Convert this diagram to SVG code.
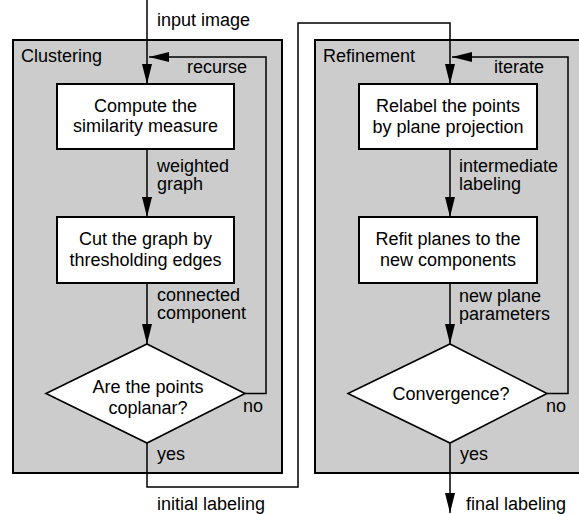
<svg xmlns="http://www.w3.org/2000/svg" width="579" height="514" viewBox="0 0 579 514">
<style>
text{font-family:"Liberation Sans",Arial,Helvetica,sans-serif;font-size:18px;fill:#000}
.c{text-anchor:middle}
.panel{fill:#cccccc;stroke:#000;stroke-width:2}
.box{fill:#fff;stroke:#000;stroke-width:2}
.dia{fill:#fff;stroke:#000;stroke-width:1.6}
.ln{fill:none;stroke:#000;stroke-width:1.5}
</style>
<defs>
<marker id="ah" markerUnits="userSpaceOnUse" markerWidth="20" markerHeight="10" refX="20" refY="5" orient="auto" viewBox="0 0 20 10">
<path d="M0,0 L20,5 L0,10 Z" fill="#000"/>
</marker>
</defs>
<g id="panel-clustering">
<rect class="panel" x="13" y="40" width="269" height="433"/>
<text x="21" y="62">Clustering</text>
</g>
<g id="panel-refinement">
<rect class="panel" x="315" y="40" width="275" height="433"/>
<text x="323" y="62">Refinement</text>
</g>
<g id="connectors">
<path class="ln" d="M147,0 V84" marker-end="url(#ah)"/>
<path class="ln" d="M147,149 V217" marker-end="url(#ah)"/>
<path class="ln" d="M147,283 V344" marker-end="url(#ah)"/>
<path class="ln" d="M245,393.5 H266 V57 H149" marker-end="url(#ah)"/>
<path class="ln" d="M147,443 V487 H298 V23 H450 V84" marker-end="url(#ah)"/>
<path class="ln" d="M450,149 V217" marker-end="url(#ah)"/>
<path class="ln" d="M450,283 V344" marker-end="url(#ah)"/>
<path class="ln" d="M547,393.5 H568 V57 H452" marker-end="url(#ah)"/>
<path class="ln" d="M450,443 V513" marker-end="url(#ah)"/>
<text x="157" y="26">input image</text>
<text x="187" y="73">recurse</text>
<text x="157" y="172">weighted</text>
<text x="157" y="190">graph</text>
<text x="157" y="301">connected</text>
<text x="157" y="319">component</text>
<text x="243" y="412">no</text>
<text x="157" y="460">yes</text>
<text x="157" y="510">initial labeling</text>
<text x="494" y="73">iterate</text>
<text x="459" y="172">intermediate</text>
<text x="459" y="190">labeling</text>
<text x="459" y="302">new plane</text>
<text x="459" y="320">parameters</text>
<text x="546" y="412">no</text>
<text x="460" y="460">yes</text>
<text x="466" y="510">final labeling</text>
</g>
<g id="compute-similarity">
<rect class="box" x="57" y="84" width="177" height="65"/>
<text class="c" x="145.5" y="111.5">Compute the</text>
<text class="c" x="145.5" y="132">similarity measure</text>
</g>
<g id="cut-graph">
<rect class="box" x="57" y="217" width="177" height="66"/>
<text class="c" x="145.5" y="244.5">Cut the graph by</text>
<text class="c" x="145.5" y="265.5">thresholding edges</text>
</g>
<g id="coplanar">
<polygon class="dia" points="147,344 245,393.5 147,443 46,393.5"/>
<text class="c" x="148" y="393">Are the points</text>
<text class="c" x="148" y="413.5">coplanar?</text>
</g>
<g id="relabel">
<rect class="box" x="359" y="84" width="178" height="65"/>
<text class="c" x="448" y="112">Relabel the points</text>
<text class="c" x="448" y="132.5">by plane projection</text>
</g>
<g id="refit">
<rect class="box" x="359" y="217" width="178" height="66"/>
<text class="c" x="448" y="245">Refit planes to the</text>
<text class="c" x="448" y="266">new components</text>
</g>
<g id="convergence">
<polygon class="dia" points="450,344 547,393.5 450,443 348,393.5"/>
<text class="c" x="451" y="399.5">Convergence?</text>
</g>
</svg>
